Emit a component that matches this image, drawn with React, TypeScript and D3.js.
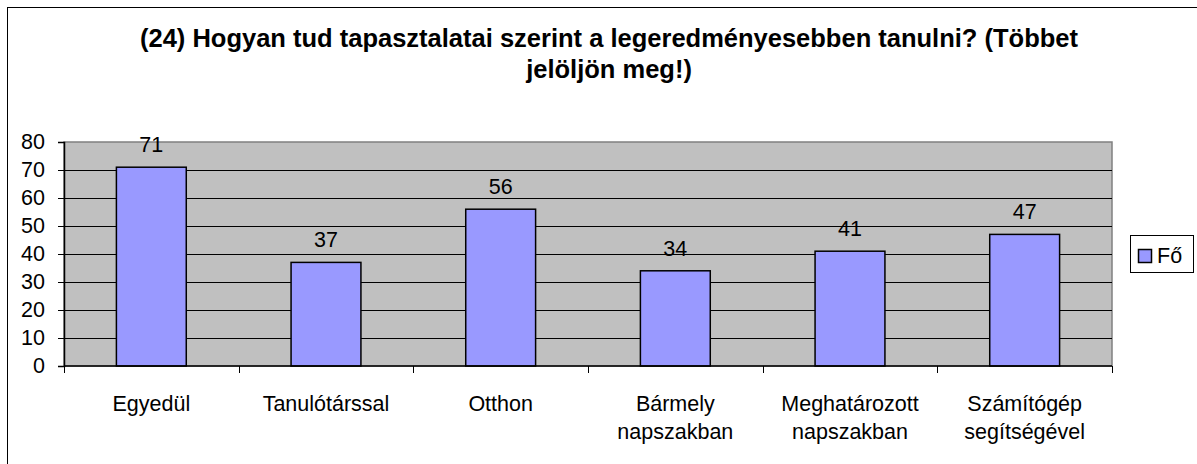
import React, { useEffect, useRef } from "react";
import * as d3 from "d3";

const categories: string[][] = [
  ["Egyedül"],
  ["Tanulótárssal"],
  ["Otthon"],
  ["Bármely", "napszakban"],
  ["Meghatározott", "napszakban"],
  ["Számítógép", "segítségével"],
];
const values = [71, 37, 56, 34, 41, 47];
const yTicks = [0, 10, 20, 30, 40, 50, 60, 70, 80];
const seriesName = "Fő";
const titleLines = [
  "(24) Hogyan tud tapasztalatai szerint a legeredményesebben tanulni? (Többet",
  "jelöljön meg!)",
];

const W = 1197;
const H = 464;
const FONT = "'Liberation Sans', Arial, sans-serif";
const FS = 21.5;

const App = () => {
  const svgRef = useRef<SVGSVGElement>(null);

  useEffect(() => {
    const svg = d3.select(svgRef.current);
    svg.selectAll("*").remove();

    // plot area
    const plot = { left: 64, right: 1112, top: 142, bottom: 366 };

    // outer chart border (runs off the right/bottom edge)
    svg
      .append("rect")
      .attr("x", 7.5)
      .attr("y", 7.5)
      .attr("width", W + 20)
      .attr("height", H + 20)
      .attr("fill", "white")
      .attr("stroke", "black")
      .attr("stroke-width", 1);

    // title
    svg
      .append("g")
      .selectAll("text")
      .data(titleLines)
      .enter()
      .append("text")
      .attr("x", 609)
      .attr("y", (d, i) => 47 + i * 31)
      .attr("text-anchor", "middle")
      .attr("font-family", FONT)
      .attr("font-weight", "bold")
      .attr("font-size", 25.5)
      .text((d) => d);

    const xScale = d3
      .scaleBand<number>()
      .domain(d3.range(categories.length))
      .range([plot.left, plot.right]);

    const yScale = d3
      .scaleLinear()
      .domain([0, 80])
      .range([plot.bottom, plot.top]);

    // plot background
    svg
      .append("rect")
      .attr("x", plot.left)
      .attr("y", plot.top)
      .attr("width", plot.right - plot.left)
      .attr("height", plot.bottom - plot.top)
      .attr("fill", "#C0C0C0")
      .attr("stroke", "#808080")
      .attr("stroke-width", 1.5);

    // gridlines
    svg
      .append("g")
      .selectAll("line")
      .data(yTicks.filter((t) => t > 0 && t < 80))
      .enter()
      .append("line")
      .attr("x1", plot.left)
      .attr("x2", plot.right)
      .attr("y1", (d) => Math.round(yScale(d)) + 0.5)
      .attr("y2", (d) => Math.round(yScale(d)) + 0.5)
      .attr("stroke", "black")
      .attr("stroke-width", 1);

    // bars
    const barW = xScale.bandwidth() * 0.4;
    svg
      .append("g")
      .selectAll("rect")
      .data(values)
      .enter()
      .append("rect")
      .attr("x", (d, i) => xScale(i)! + (xScale.bandwidth() - barW) / 2)
      .attr("y", (d) => yScale(d))
      .attr("width", barW)
      .attr("height", (d) => plot.bottom - yScale(d))
      .attr("fill", "#9999FF")
      .attr("stroke", "black")
      .attr("stroke-width", 1.5);

    // value labels
    svg
      .append("g")
      .selectAll("text")
      .data(values)
      .enter()
      .append("text")
      .attr("x", (d, i) => xScale(i)! + xScale.bandwidth() / 2)
      .attr("y", (d) => yScale(d) - 15)
      .attr("text-anchor", "middle")
      .attr("font-family", FONT)
      .attr("font-size", FS)
      .text((d) => d);

    // y axis
    const yAxis = d3
      .axisLeft(yScale)
      .tickValues(yTicks)
      .tickSize(6)
      .tickPadding(13)
      .tickFormat(d3.format("d"));
    const yG = svg
      .append("g")
      .attr("transform", `translate(${plot.left},0)`)
      .call(yAxis);
    yG.select(".domain").attr("stroke", "black").attr("stroke-width", 1.5);
    yG.selectAll(".tick line").attr("stroke", "black");
    yG.selectAll(".tick text")
      .attr("font-family", FONT)
      .attr("font-size", FS)
      .attr("fill", "black");

    // x axis line + ticks at category boundaries
    svg
      .append("line")
      .attr("x1", plot.left)
      .attr("x2", plot.right)
      .attr("y1", plot.bottom)
      .attr("y2", plot.bottom)
      .attr("stroke", "black")
      .attr("stroke-width", 1.5);
    svg
      .append("g")
      .selectAll("line")
      .data(d3.range(categories.length + 1))
      .enter()
      .append("line")
      .attr("x1", (d) => Math.round(plot.left + d * xScale.step()) + 0.5)
      .attr("x2", (d) => Math.round(plot.left + d * xScale.step()) + 0.5)
      .attr("y1", plot.bottom)
      .attr("y2", plot.bottom + 7)
      .attr("stroke", "black");

    // category labels
    const catG = svg
      .append("g")
      .selectAll("text")
      .data(categories)
      .enter()
      .append("text")
      .attr("text-anchor", "middle")
      .attr("font-family", FONT)
      .attr("font-size", FS);
    catG
      .selectAll("tspan")
      .data((d, i) => d.map((line) => ({ line, i })))
      .enter()
      .append("tspan")
      .attr("x", (d) => xScale(d.i)! + xScale.bandwidth() / 2)
      .attr("y", (d, j) => 411 + j * 28)
      .text((d) => d.line);

    // legend
    const legend = svg.append("g");
    legend
      .append("rect")
      .attr("x", 1130.5)
      .attr("y", 235.5)
      .attr("width", 63)
      .attr("height", 37)
      .attr("fill", "white")
      .attr("stroke", "black");
    legend
      .append("rect")
      .attr("x", 1138.5)
      .attr("y", 249.5)
      .attr("width", 13)
      .attr("height", 13)
      .attr("fill", "#9999FF")
      .attr("stroke", "black")
      .attr("stroke-width", 1.5);
    legend
      .append("text")
      .attr("x", 1157)
      .attr("y", 263)
      .attr("font-family", FONT)
      .attr("font-size", FS)
      .text(seriesName);
  }, []);

  return (
    <svg
      ref={svgRef}
      width={W}
      height={H}
      style={{ position: "absolute", left: 0, top: 0 }}
    ></svg>
  );
};

export default App;
